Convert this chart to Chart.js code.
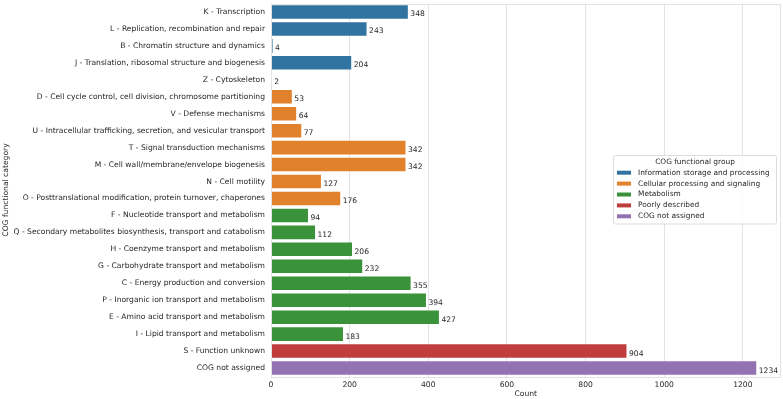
<!DOCTYPE html>
<html>
<head>
<meta charset="utf-8">
<script src="https://cdn.jsdelivr.net/npm/chart.js@4.4.0/dist/chart.umd.min.js"></script>
<style>
  html, body { margin:0; padding:0; background:#fff; }
  #wrap { width:783px; height:399px; position:relative; }
</style>
</head>
<body>
<div id="wrap"><canvas id="cog"></canvas></div>
<script>
// COG category counts, top to bottom as in the figure
const categories = [
  'K - Transcription',
  'L - Replication, recombination and repair',
  'B - Chromatin structure and dynamics',
  'J - Translation, ribosomal structure and biogenesis',
  'Z - Cytoskeleton',
  'D - Cell cycle control, cell division, chromosome partitioning',
  'V - Defense mechanisms',
  'U - Intracellular trafficking, secretion, and vesicular transport',
  'T - Signal transduction mechanisms',
  'M - Cell wall/membrane/envelope biogenesis',
  'N - Cell motility',
  'O - Posttranslational modification, protein turnover, chaperones',
  'F - Nucleotide transport and metabolism',
  'Q - Secondary metabolites biosynthesis, transport and catabolism',
  'H - Coenzyme transport and metabolism',
  'G - Carbohydrate transport and metabolism',
  'C - Energy production and conversion',
  'P - Inorganic ion transport and metabolism',
  'E - Amino acid transport and metabolism',
  'I - Lipid transport and metabolism',
  'S - Function unknown',
  'COG not assigned'
];
const counts = [348, 243, 4, 204, 2, 53, 64, 77, 342, 342, 127, 176, 94, 112, 206, 232, 355, 394, 427, 183, 904, 1234];
// index into groupNames for each category
const groupOf = [0,0,0,0, 1,1,1,1,1,1,1,1, 2,2,2,2,2,2,2,2, 3, 4];

const groupNames = ['Information storage and processing', 'Cellular processing and signaling', 'Metabolism', 'Poorly described', 'COG not assigned'];
const groupColors = ['#3274a1', '#e1812c', '#3a923a', '#c03d3e', '#9372b2'];
const xTicks = [0, 200, 400, 600, 800, 1000, 1200];

const FONT = 'DejaVu Sans';
const INK = '#262626';
const FS = 7.6;

// bar end labels + frame + legend box
const extras = {
  id: 'extras',
  afterDatasetsDraw(chart) {
    const ctx = chart.ctx;
    const meta = chart.getDatasetMeta(0);
    ctx.save();
    ctx.font = FS + 'px "' + FONT + '"';
    ctx.fillStyle = INK;
    ctx.textAlign = 'left';
    ctx.textBaseline = 'middle';
    meta.data.forEach((bar, i) => {
      ctx.fillText(String(counts[i]), bar.x + 2.5, bar.y + 2.5);
    });
    ctx.restore();
  },
  afterDraw(chart) {
    const ctx = chart.ctx;
    const a = chart.chartArea;
    ctx.save();
    ctx.strokeStyle = '#e3e3e3';
    ctx.lineWidth = 1;
    ctx.strokeRect(Math.round(a.left) + 0.5, Math.round(a.top) + 0.5, Math.round(a.right - a.left) - 1, Math.round(a.bottom - a.top));

    // legend
    const lx = 613.5, ly = 155.5, lw = 163, lh = 68.5;
    ctx.fillStyle = 'rgba(255,255,255,0.85)';
    ctx.strokeStyle = '#dcdcdc';
    ctx.beginPath();
    ctx.roundRect(lx, ly, lw, lh, 2);
    ctx.fill();
    ctx.stroke();
    ctx.font = '7.4px "' + FONT + '"';
    ctx.fillStyle = INK;
    ctx.textBaseline = 'middle';
    ctx.textAlign = 'center';
    ctx.fillText('COG functional group', lx + lw / 2, 161.8);
    ctx.textAlign = 'left';
    groupNames.forEach((name, i) => {
      const y = 172.7 + i * 10.9;
      ctx.fillStyle = groupColors[i];
      ctx.fillRect(617, y - 2, 14, 4);
      ctx.fillStyle = INK;
      ctx.fillText(name, 638, y);
    });
    ctx.restore();
  }
};

new Chart(document.getElementById('cog'), {
  type: 'bar',
  data: {
    labels: categories,
    datasets: [{
      data: counts,
      backgroundColor: groupOf.map(g => groupColors[g]),
      borderWidth: 0,
      categoryPercentage: 1,
      barPercentage: 0.8
    }]
  },
  options: {
    indexAxis: 'y',
    responsive: true,
    maintainAspectRatio: false,
    animation: false,
    layout: { padding: { top: 3.5, right: 2.5, left: 0, bottom: 0 } },
    plugins: { legend: { display: false }, tooltip: { enabled: false } },
    scales: {
      x: {
        min: 0,
        max: 1295.7,
        afterBuildTicks: s => { s.ticks = xTicks.map(v => ({ value: v })); },
        afterFit: s => { s.height = 22.5; s.paddingLeft = 0; s.paddingRight = 0; },
        grid: { color: '#e3e3e3', lineWidth: 1, drawTicks: false },
        border: { display: false },
        ticks: { color: INK, font: { family: FONT, size: FS }, padding: 4, maxRotation: 0, callback: v => String(v) },
        title: { display: true, text: 'Count', color: INK, font: { family: FONT, size: FS }, padding: { top: 0, bottom: 0 } }
      },
      y: {
        afterFit: s => { s.width = 271; s.paddingTop = 0; s.paddingBottom = 0; },
        grid: { display: false, drawTicks: false },
        border: { display: false },
        ticks: { color: INK, font: { family: FONT, size: FS }, padding: 6, autoSkip: false },
        title: { display: true, text: 'COG functional category', color: INK, font: { family: FONT, size: FS }, padding: { top: 1, bottom: 0 } }
      }
    }
  },
  plugins: [extras]
});
</script>
</body>
</html>
